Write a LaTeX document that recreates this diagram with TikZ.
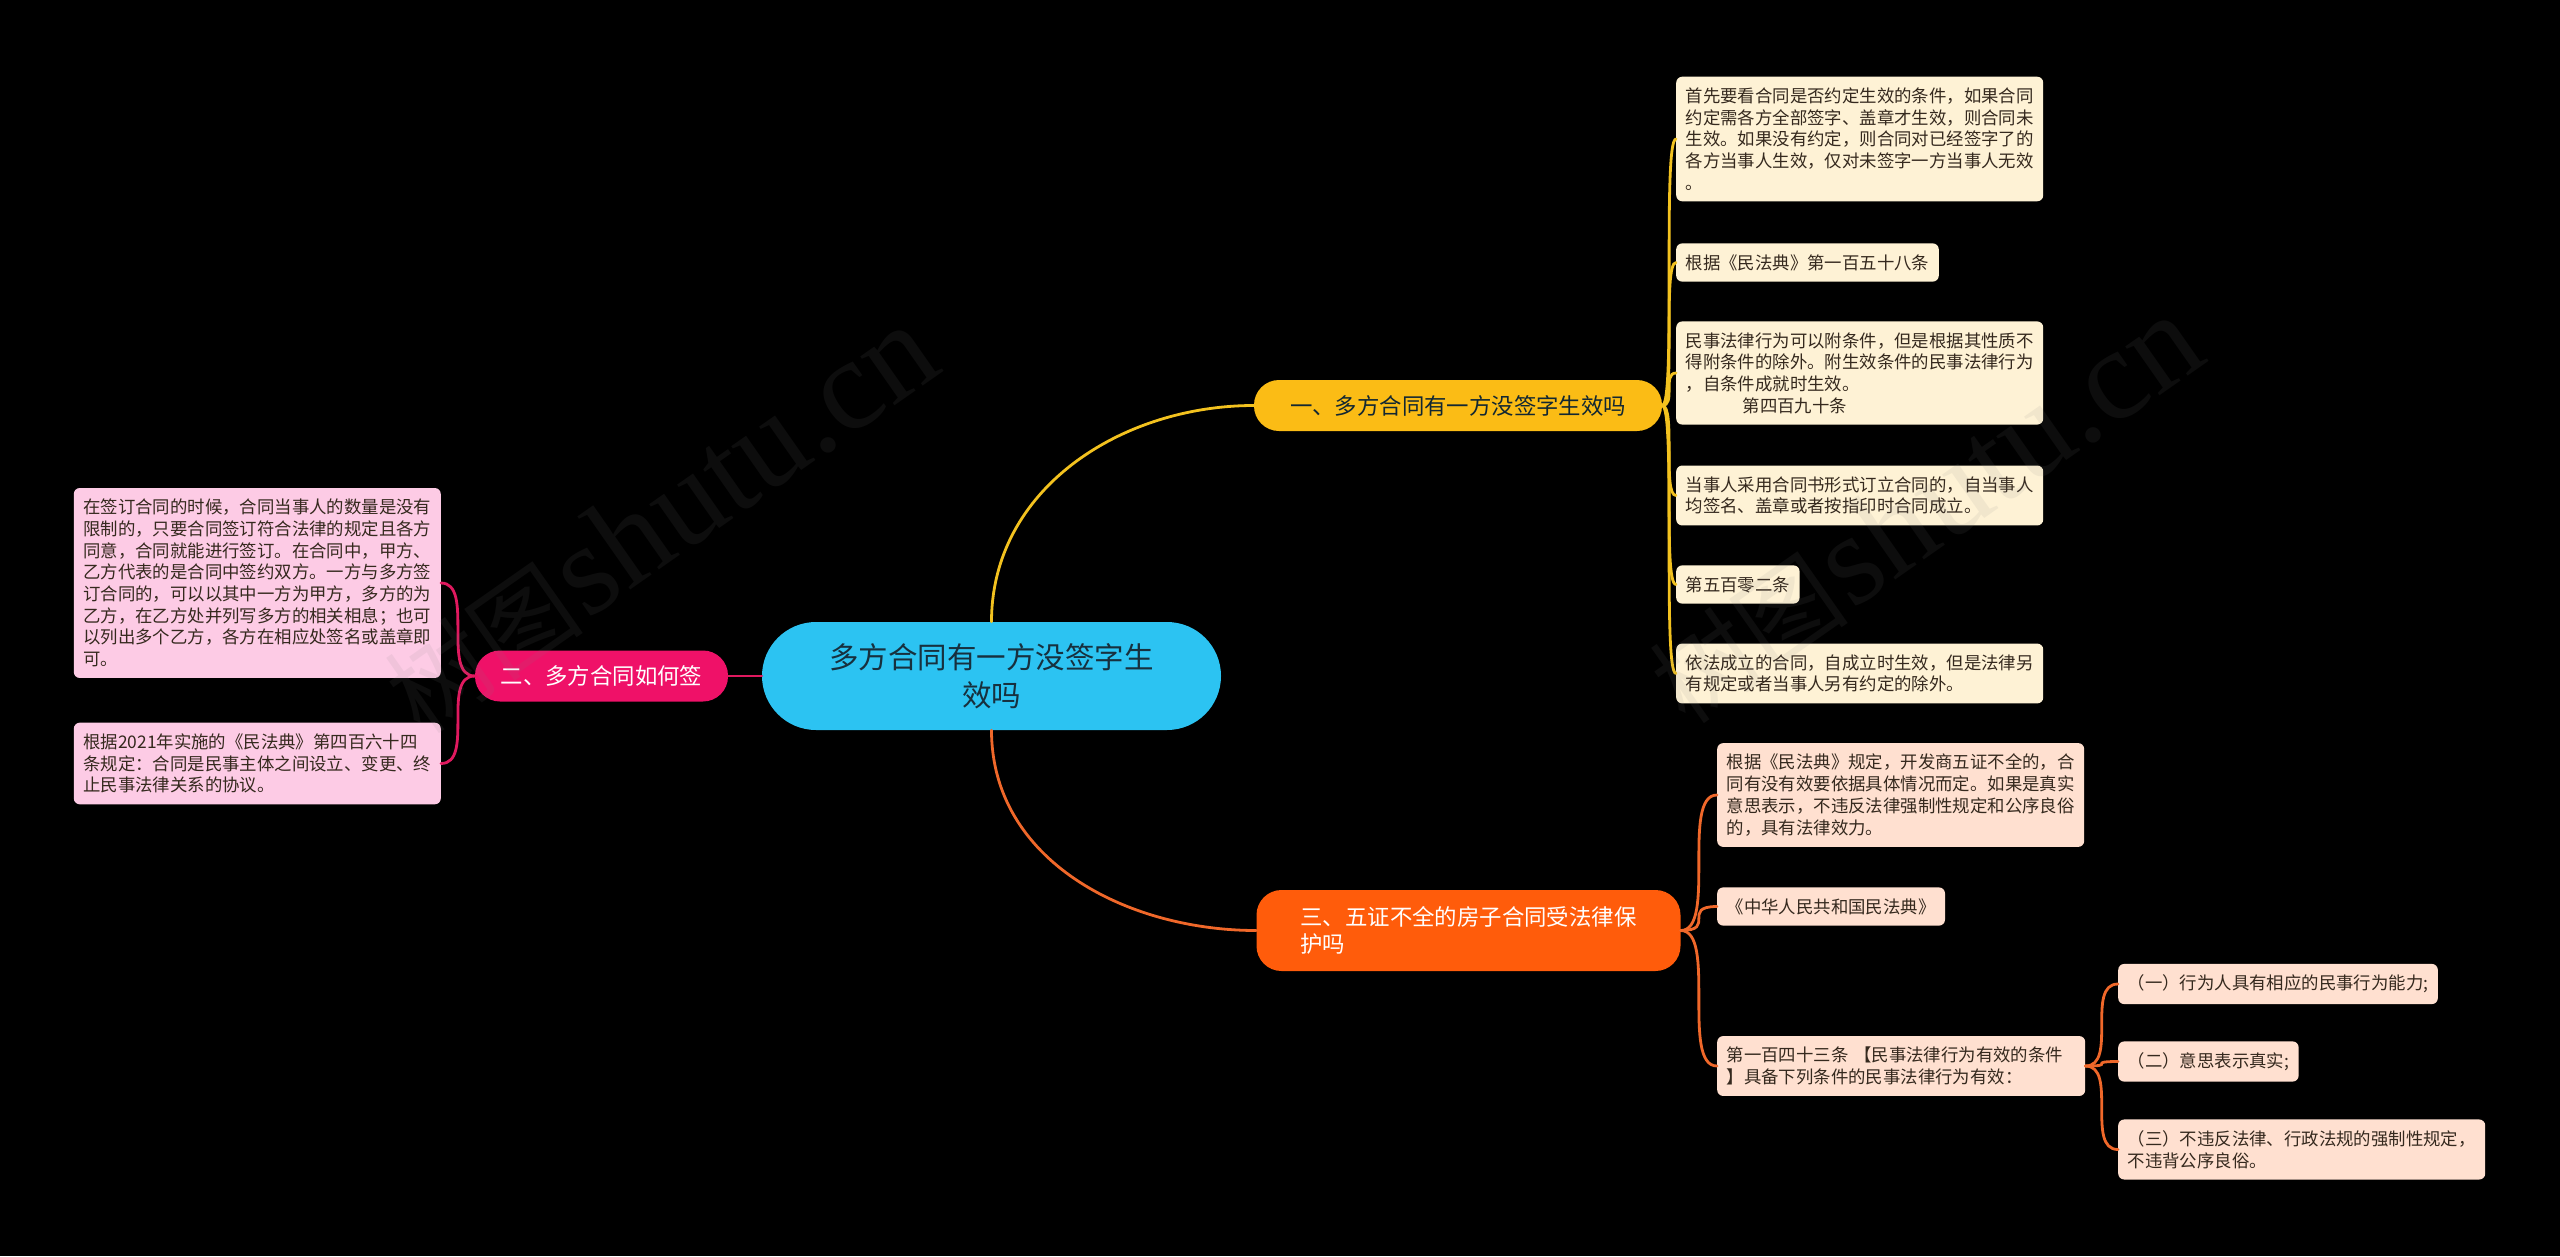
\documentclass[tikz,border=0pt]{standalone}
\usepackage{fontspec}
\setmainfont{Noto Sans CJK SC}
\newfontfamily\wmlatin{Liberation Serif}
\usetikzlibrary{positioning, calc}
\definecolor{rootfill}{HTML}{2CC3F2}
\definecolor{roottext}{HTML}{17303E}
\definecolor{ybranch}{HTML}{FBBC15}
\definecolor{pbranch}{HTML}{EF1168}
\definecolor{obranch}{HTML}{FF5C0B}
\definecolor{yleaffill}{HTML}{FEF2D5}
\definecolor{pleaffill}{HTML}{FDCBE5}
\definecolor{oleaffill}{HTML}{FFE0D0}
\definecolor{yline}{HTML}{F3C21F}
\definecolor{pline}{HTML}{E0195F}
\definecolor{oline}{HTML}{F0682A}
\definecolor{leaftext}{HTML}{35291E}

\begin{document}
\begin{tikzpicture}[x=1pt, y=-1pt,
root/.style={fill=rootfill, rounded corners=54pt, minimum width=459pt, minimum height=108pt, text=roottext, align=center, font=\fontsize{29.5}{38}\selectfont},
branch/.style={rounded corners=25pt, minimum height=51pt, inner xsep=0pt, font=\fontsize{22.4}{27}\selectfont},
leaf/.style={rounded corners=6pt, inner xsep=9.5pt, inner ysep=11pt, align=left, text=leaftext, font=\fontsize{17.4}{21.7}\selectfont},
yleaf/.style={leaf, fill=yleaffill, anchor=west},
pleaf/.style={leaf, fill=pleaffill, anchor=east},
oleaf/.style={leaf, fill=oleaffill, anchor=west},
link/.style={line width=2.8pt, line cap=round},
branchcurve/.style={to path={.. controls (\tikztotarget |- \tikztostart) and (\tikztostart |- \tikztotarget) .. (\tikztotarget) \tikztonodes}}]
    \useasboundingbox (0,0) rectangle (2560,1256);
    \fill[black] (0,0) rectangle (2560,1256);

    % centre and main branches
    \node[root] (root) at (991.5,676) {多方合同有一方没签字生\\效吗};
    \node[branch, fill=ybranch, text=roottext!80!black, minimum width=408pt] (b1) at (1458,405.5) {一、多方合同有一方没签字生效吗};
    \node[branch, fill=pbranch, text=white, minimum width=253pt] (b2) at (601.5,676) {二、多方合同如何签};
    \node[branch, fill=obranch, text=white, align=left, inner xsep=44pt, minimum height=81pt] (b3) at (1468.5,930.5) {三、五证不全的房子合同受法律保\\护吗};

    % branch one
    \node[yleaf] (y1) at (1676,139) {首先要看合同是否约定生效的条件，如果合同\\约定需各方全部签字、盖章才生效，则合同未\\生效。如果没有约定，则合同对已经签字了的\\各方当事人生效，仅对未签字一方当事人无效\\。};
    \node[yleaf] (y2) at (1676,262.5) {根据《民法典》第一百五十八条};
    \node[yleaf] (y3) at (1676,373) {民事法律行为可以附条件，但是根据其性质不\\得附条件的除外。附生效条件的民事法律行为\\，自条件成就时生效。\\\hspace*{57pt}第四百九十条};
    \node[yleaf] (y4) at (1676,495.5) {当事人采用合同书形式订立合同的，自当事人\\均签名、盖章或者按指印时合同成立。};
    \node[yleaf] (y5) at (1676,584.5) {第五百零二条};
    \node[yleaf] (y6) at (1676,673.5) {依法成立的合同，自成立时生效，但是法律另\\有规定或者当事人另有约定的除外。};

    % branch two
    \node[pleaf] (p1) at (441,583) {在签订合同的时候，合同当事人的数量是没有\\限制的，只要合同签订符合法律的规定且各方\\同意，合同就能进行签订。在合同中，甲方、\\乙方代表的是合同中签约双方。一方与多方签\\订合同的，可以以其中一方为甲方，多方的为\\乙方，在乙方处并列写多方的相关相息；也可\\以列出多个乙方，各方在相应处签名或盖章即\\可。};
    \node[pleaf] (p2) at (441,763.5) {根据2021年实施的《民法典》第四百六十四\\条规定：合同是民事主体之间设立、变更、终\\止民事法律关系的协议。};

    % branch three
    \node[oleaf] (o1) at (1717,795) {根据《民法典》规定，开发商五证不全的，合\\同有没有效要依据具体情况而定。如果是真实\\意思表示，不违反法律强制性规定和公序良俗\\的，具有法律效力。};
    \node[oleaf] (o2) at (1717,906.5) {《中华人民共和国民法典》};
    \node[oleaf, text width=349pt] (o3) at (1717,1066) {第一百四十三条 【民事法律行为有效的条件\\】具备下列条件的民事法律行为有效：};
    \node[oleaf] (c1) at (2118,984) {（一）行为人具有相应的民事行为能力;};
    \node[oleaf] (c2) at (2118,1061.5) {（二）意思表示真实;};
    \node[oleaf] (c3) at (2118,1149.5) {（三）不违反法律、行政法规的强制性规定，\\不违背公序良俗。};

    \draw[link, yline] (root.north) to[out=90, in=180] (b1.west);
    \draw[link, pline] (root.west) -- (b2.east);
    \draw[link, oline] (root.south) to[out=-90, in=180] (b3.west);

    \foreach \leaf in {y1,y2,y3,y4,y5,y6}
        \draw[link, yline] (b1.east) to[branchcurve] (\leaf.west);
    \foreach \leaf in {p1,p2}
        \draw[link, pline] (b2.west) to[branchcurve] (\leaf.east);
    \foreach \leaf in {o1,o2,o3}
        \draw[link, oline] (b3.east) to[branchcurve] (\leaf.west);
    \foreach \leaf in {c1,c2,c3}
        \draw[link, oline] (o3.east) to[branchcurve] (\leaf.west);

    % watermark
    \node[rotate=35, text=gray, opacity=.1] (mark1) at (660,520) {{\fontsize{100}{100}\selectfont 树图} {\wmlatin\fontsize{130}{130}\selectfont shutu.cn}};
    \node[rotate=35, text=gray, opacity=.1] (mark2) at (1925,510) {{\fontsize{100}{100}\selectfont 树图} {\wmlatin\fontsize{130}{130}\selectfont shutu.cn}};
\end{tikzpicture}
\end{document}
